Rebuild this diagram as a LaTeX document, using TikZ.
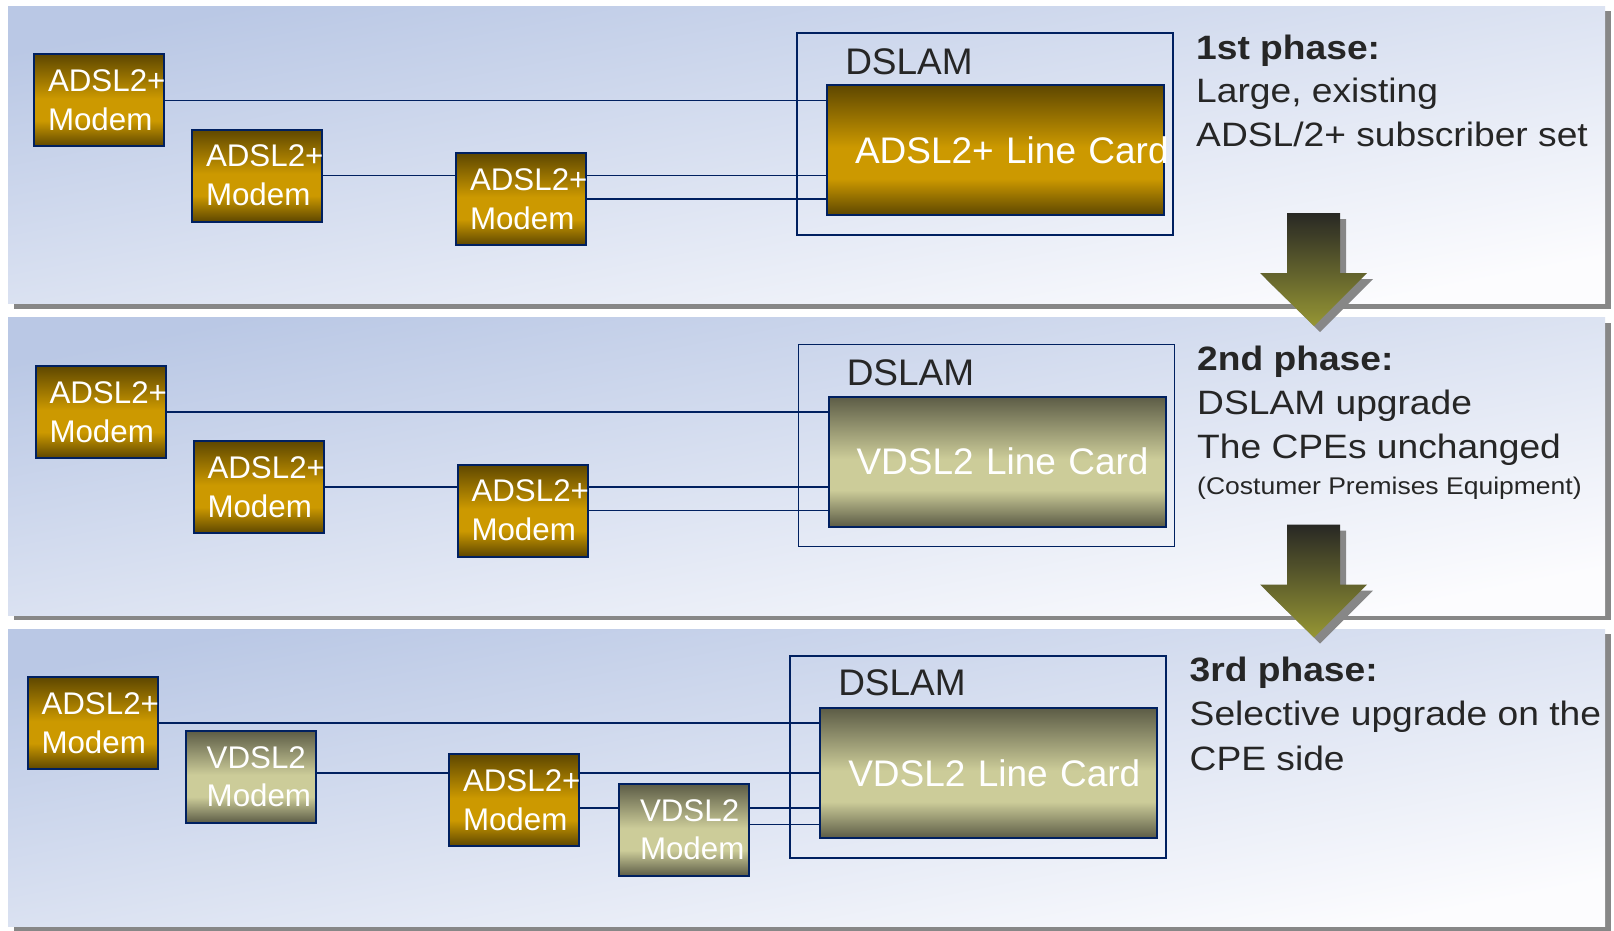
\documentclass[tikz,border=0pt]{standalone}
\usepackage{fontspec}
\setmainfont{Liberation Sans}
\newfontfamily\descfont[FakeStretch=1.1]{Liberation Sans}
\usetikzlibrary{calc}
\pgfdeclarelayer{panels}
\pgfdeclarelayer{wires}
\pgfsetlayers{panels,wires,main}

\definecolor{navy}{RGB}{0,32,96}
\definecolor{golddark}{RGB}{94,71,0}
\definecolor{gold}{RGB}{204,153,0}
\definecolor{khakidark}{RGB}{92,92,70}
\definecolor{khaki}{RGB}{204,204,153}
\definecolor{paneltop}{RGB}{186,200,229}
\definecolor{panelbot}{RGB}{252,252,254}
\definecolor{panelshadow}{RGB}{135,135,135}
\definecolor{arrowtop}{RGB}{40,40,36}
\definecolor{arrowbot}{RGB}{150,150,52}
\definecolor{inktext}{RGB}{38,38,38}

% vertical bands: the node box maps onto 25bp..75bp of the shading
\pgfdeclareverticalshading{adslfill}{100bp}{color(0bp)=(golddark); color(25bp)=(golddark); color(39bp)=(gold); color(51bp)=(gold); color(75bp)=(golddark); color(100bp)=(golddark)}
\pgfdeclareverticalshading{vdslfill}{100bp}{color(0bp)=(khakidark); color(25bp)=(khakidark); color(39bp)=(khaki); color(51bp)=(khaki); color(75bp)=(khakidark); color(100bp)=(khakidark)}

\newcommand\modemfont{\fontsize{31.3}{39}\selectfont}
\newcommand\vmodemfont{\fontsize{31.3}{37.6}\selectfont}
\newcommand\cardfont{\fontsize{37}{44}\selectfont}

\begin{document}
\begin{tikzpicture}[x=1pt,y=-1pt,
  modem/.style={draw=navy, line width=2, shade, minimum width=130, minimum height=92,
    inner xsep=14, inner ysep=0, text width=102, align=left, text=white, font=\modemfont},
  adsl/.style={modem, shading=adslfill},
  vdsl/.style={modem, shading=vdslfill, inner xsep=21, text width=88, font=\vmodemfont},
  card/.style={draw=navy, line width=2, shade, minimum width=337, minimum height=130,
    inner xsep=28, inner ysep=0, text width=281, align=left, text=white, font=\cardfont},
  adslcard/.style={card, shading=adslfill},
  vdslcard/.style={card, shading=vdslfill},
  dslam/.style={draw=navy, line width=1.6, minimum width=376, minimum height=202, inner sep=0},
  dslamtitle/.style={anchor=base, inner sep=0, text=inktext, font=\cardfont},
  wire/.style={draw=navy, line width=1.8},
  phase/.style={anchor=base west, inner sep=0, text=inktext, font=\descfont\fontsize{33.8}{44}\selectfont},
  phasehead/.style={phase, font=\descfont\bfseries\fontsize{33.8}{44}\selectfont},
  phasenote/.style={phase, font=\descfont\fontsize{24.1}{30}\selectfont}
]
\useasboundingbox (0,0) rectangle (1614,930);

% backdrop panels with their drop shadows
\begin{pgfonlayer}{panels}
  \fill[white] (0,0) rectangle (1614,930);
  \foreach \dy in {0,311.5,623} {
    \fill[panelshadow] (14,11+\dy) rectangle (1611,308.5+\dy);
    \shade[top color=paneltop, bottom color=panelbot, shading angle=11]
      (8,6+\dy) rectangle (1605,303.5+\dy);
  }
\end{pgfonlayer}

% ---- phase 1 ----
\node[adsl] (A1) at (99,100.4) {\mbox{ADSL2+}\\\mbox{Modem}};
\node[adsl] (A2) at (257,175.5) {\mbox{ADSL2+}\\\mbox{Modem}};
\node[adsl] (A3) at (521,199) {\mbox{ADSL2+}\\\mbox{Modem}};
\node[dslam] (D1) at (985,134) {};
\node[dslamtitle] (D1t) at (909,74) {DSLAM};
\node[adslcard] (L1) at (995.5,150) {\mbox{ADSL2+ Line Card}};

\node[phasehead] (P1a) at (1196,59.3) {1st phase:};
\node[phase] (P1b) at (1196,102.7) {Large, existing};
\node[phase] (P1c) at (1196,146.7) {ADSL/2+ subscriber set};

% ---- phase 2 ----
\node[adsl] (B1) at (100.5,411.9) {\mbox{ADSL2+}\\\mbox{Modem}};
\node[adsl] (B2) at (258.5,487) {\mbox{ADSL2+}\\\mbox{Modem}};
\node[adsl] (B3) at (522.5,510.5) {\mbox{ADSL2+}\\\mbox{Modem}};
\node[dslam] (D2) at (986.5,445.5) {};
\node[dslamtitle] (D2t) at (910.5,385.5) {DSLAM};
\node[vdslcard] (L2) at (997,461.5) {\mbox{VDSL2 Line Card}};

\node[phasehead] (P2a) at (1197,370.8) {2nd phase:};
\node[phase] (P2b) at (1197,414.2) {DSLAM upgrade};
\node[phase] (P2c) at (1197,458.2) {The CPEs unchanged};
\node[phasenote] (P2d) at (1197,494) {(Costumer Premises Equipment)};

% ---- phase 3 ----
\node[adsl] (C1) at (92.5,723) {\mbox{ADSL2+}\\\mbox{Modem}};
\node[vdsl] (C2) at (250.7,776.7) {\mbox{VDSL2}\\\mbox{Modem}};
\node[adsl] (C3) at (514,800) {\mbox{ADSL2+}\\\mbox{Modem}};
\node[vdsl] (C4) at (684,830) {\mbox{VDSL2}\\\mbox{Modem}};
\node[dslam] (D3) at (978,756.8) {};
\node[dslamtitle] (D3t) at (902,695.5) {DSLAM};
\node[vdslcard] (L3) at (988.8,773) {\mbox{VDSL2 Line Card}};

\node[phasehead] (P3a) at (1189.5,681.5) {3rd phase:};
\node[phase] (P3b) at (1189.5,725.5) {Selective upgrade on the};
\node[phase] (P3c) at (1189.5,770.5) {CPE side};

% wire exit points
\coordinate (c2o) at ([yshift=3.7pt]C2.east);
\coordinate (c3o) at ([yshift=-8pt]C3.east);
\coordinate (c4o) at ([yshift=5.5pt]C4.east);

% subscriber lines, running behind the modems
\begin{pgfonlayer}{wires}
  \draw[wire] (A1.east) -- (A1.east -| L1.west);
  \draw[wire] (A2.east) -- (A2.east -| L1.west);
  \draw[wire] (A3.east) -- (A3.east -| L1.west);
  \draw[wire] (B1.east) -- (B1.east -| L2.west);
  \draw[wire] (B2.east) -- (B2.east -| L2.west);
  \draw[wire] (B3.east) -- (B3.east -| L2.west);
  \draw[wire] (C1.east) -- (C1.east -| L3.west);
  \draw[wire] (c2o) -- (c2o -| L3.west);
  \draw[wire] (c3o) -- (c3o -| L3.west);
  \draw[wire] (c4o) -- (c4o -| L3.west);
\end{pgfonlayer}

% transition arrows between phases
\foreach \dy in {0,311.5} {
  \begin{scope}[shift={(0,\dy)}]
    \fill[panelshadow, shift={(6,6)}]
      (1287,213) -- (1340,213) -- (1340,273) -- (1367,273) -- (1314,326)
      -- (1260,273) -- (1287,273) -- cycle;
    \shade[top color=arrowtop, bottom color=arrowbot]
      (1287,213) -- (1340,213) -- (1340,273) -- (1367,273) -- (1314,326)
      -- (1260,273) -- (1287,273) -- cycle;
  \end{scope}
}
\end{tikzpicture}
\end{document}
